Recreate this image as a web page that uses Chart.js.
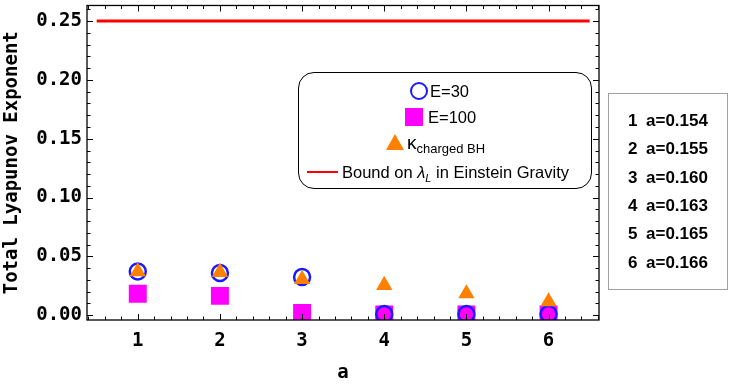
<!DOCTYPE html>
<html>
<head>
<meta charset="utf-8">
<script src="https://cdn.jsdelivr.net/npm/chart.js@4"></script>
<style>
  html, body { margin: 0; padding: 0; background: #fff; }
  #wrap { position: relative; width: 729px; height: 384px; }
  #chart { position: absolute; left: 0; top: 0; }
  .leg { position: absolute; font-family: "Liberation Sans", Arial, sans-serif; font-size: 16.5px; color: #000; line-height: 1; white-space: nowrap; }
  #legendBox { position: absolute; left: 298px; top: 72px; width: 292px; height: 115px; border: 1.5px solid #000; border-radius: 16px; }
  #aBox { position: absolute; left: 608px; top: 93px; width: 118px; height: 195px; border: 1.5px solid #a0a0a0; }
  .arow { position: absolute; left: 628px; font-family: "Liberation Sans", Arial, sans-serif; font-weight: bold; font-size: 17px; line-height: 1; white-space: nowrap; }
  .arow b { display: inline-block; width: 18px; }
</style>
</head>
<body>
<div id="wrap">
  <canvas id="chart" width="729" height="384"></canvas>
  <div id="legendBox"></div>
  <div id="legendItems"></div>
  <div id="aBox"></div>
  <div id="aRows"></div>
</div>
<script>
// values
const categories = [1, 2, 3, 4, 5, 6];
const aLabels = ["0.154", "0.155", "0.160", "0.163", "0.165", "0.166"];
const energy30 = [0.0371, 0.0358, 0.0324, 0.001, 0.001, 0.001];
const energy100 = [0.0182, 0.0164, 0.0019, 0.0005, 0.0005, 0.0005];
const kappaChargedBH = [0.0370, 0.0365, 0.0304, 0.0255, 0.0184, 0.0115];
const boundValue = 0.25;
const boundRange = [0.5, 6.5];
const yTicks = [0, 0.05, 0.10, 0.15, 0.20, 0.25];

const MONO = "'DejaVu Sans Mono', monospace";
const COLORS = {
  e30: "#1a1aff",
  e100: "#ff00ff",
  kappa: "#ff8000",
  bound: "#ff0000",
};

const pts = (ys) => categories.map((c, i) => ({ x: c, y: ys[i] }));

// Mathematica-style frame with inward ticks on all four sides
const frameTicks = {
  id: "frameTicks",
  afterDraw(chart) {
    const { ctx, chartArea: a, scales: { x, y } } = chart;
    ctx.save();
    ctx.strokeStyle = "#000";
    ctx.lineWidth = 1.3;
    ctx.strokeRect(a.left, a.top, a.right - a.left, a.bottom - a.top);
    ctx.lineWidth = 1;
    ctx.beginPath();
    for (let i = Math.ceil(x.min / 0.2); i <= Math.floor(x.max / 0.2); i++) {
      const px = Math.round(x.getPixelForValue(i * 0.2)) + 0.5;
      const len = i % 5 === 0 ? 6 : 3.5;
      ctx.moveTo(px, a.bottom); ctx.lineTo(px, a.bottom - len);
      ctx.moveTo(px, a.top); ctx.lineTo(px, a.top + len);
    }
    for (let i = Math.ceil(y.min / 0.01); i <= Math.floor(y.max / 0.01); i++) {
      const py = Math.round(y.getPixelForValue(i * 0.01)) + 0.5;
      const len = i % 5 === 0 ? 6 : 3.5;
      ctx.moveTo(a.left, py); ctx.lineTo(a.left + len, py);
      ctx.moveTo(a.right, py); ctx.lineTo(a.right - len, py);
    }
    ctx.stroke();
    ctx.restore();
  },
};

new Chart(document.getElementById("chart"), {
  type: "scatter",
  data: {
    datasets: [
      {
        label: "kappa charged BH",
        data: pts(kappaChargedBH),
        pointStyle: "triangle",
        pointRadius: 9.4,
        backgroundColor: COLORS.kappa,
        borderWidth: 0,
      },
      {
        label: "E=30",
        data: pts(energy30),
        pointStyle: "circle",
        pointRadius: 8,
        backgroundColor: "rgba(0,0,0,0)",
        borderColor: COLORS.e30,
        borderWidth: 2.5,
      },
      {
        label: "E=100",
        data: pts(energy100),
        pointStyle: "rect",
        pointRadius: 12.7,
        backgroundColor: COLORS.e100,
        borderWidth: 0,
      },
      {
        label: "Bound",
        type: "line",
        data: boundRange.map((x) => ({ x, y: boundValue })),
        borderColor: COLORS.bound,
        borderWidth: 3,
        pointRadius: 0,
      },
    ],
  },
  options: {
    responsive: false,
    devicePixelRatio: 1,
    animation: false,
    layout: { autoPadding: false, padding: { left: 0, top: 4, right: 130, bottom: 0 } },
    plugins: { legend: { display: false }, tooltip: { enabled: false } },
    scales: {
      x: {
        type: "linear",
        min: 0.382,
        max: 6.614,
        afterFit(s) { s.height = 64; },
        afterBuildTicks(s) { s.ticks = categories.map((v) => ({ value: v })); },
        grid: { display: false, drawTicks: false },
        border: { display: false },
        ticks: { color: "#000", padding: 10, font: { family: MONO, weight: "bold", size: 19 } },
        title: {
          display: true, text: "a", color: "#000",
          padding: { top: 0, bottom: 1.5 },
          font: { family: MONO, weight: "bold", size: 19, lineHeight: 1 },
        },
      },
      y: {
        min: -0.0041,
        max: 0.2633,
        afterFit(s) { s.width = 87; },
        afterBuildTicks(s) { s.ticks = yTicks.map((v) => ({ value: v })); },
        grid: { display: false, drawTicks: false },
        border: { display: false },
        ticks: {
          color: "#000", padding: 5,
          // tiny lineHeight keeps the end labels from padding the plot area
          font: { family: MONO, weight: "bold", size: 19, lineHeight: 0.05 },
          callback: (v) => v.toFixed(2),
        },
        title: {
          display: true, text: "Total Lyapunov Exponent", color: "#000",
          padding: { top: 3, bottom: 0 },
          font: { family: MONO, weight: "bold", size: 19, lineHeight: 1 },
        },
      },
    },
  },
  plugins: [frameTicks],
});

// inner legend
document.getElementById("legendItems").innerHTML = `
  <div style="position:absolute;left:410px;top:82px;width:14px;height:14px;border:2.5px solid ${COLORS.e30};border-radius:50%;"></div>
  <div class="leg" style="left:430px;top:83px;">E=30</div>
  <div style="position:absolute;left:405px;top:108px;width:18px;height:18px;background:${COLORS.e100};"></div>
  <div class="leg" style="left:428px;top:109px;">E=100</div>
  <div style="position:absolute;left:386px;top:134px;width:0;height:0;border-left:9px solid transparent;border-right:9px solid transparent;border-bottom:16px solid ${COLORS.kappa};"></div>
  <div class="leg" style="left:407px;top:133px;"><i style="font-style:normal;font-size:19px;">&kappa;</i><sub style="font-size:13px;vertical-align:-4px;">charged BH</sub></div>
  <div style="position:absolute;left:307px;top:171px;width:31px;height:2px;background:${COLORS.bound};"></div>
  <div class="leg" style="left:342px;top:164px;">Bound on <i>&lambda;</i><sub style="font-size:11px;font-style:italic;vertical-align:-4px;">L</sub> in Einstein Gravity</div>
`;

// right-hand key of a values
document.getElementById("aRows").innerHTML = aLabels
  .map((a, i) => `<div class="arow" style="top:${112 + i * 28.3}px;"><b>${categories[i]}</b>a=${a}</div>`)
  .join("");
</script>
</body>
</html>
